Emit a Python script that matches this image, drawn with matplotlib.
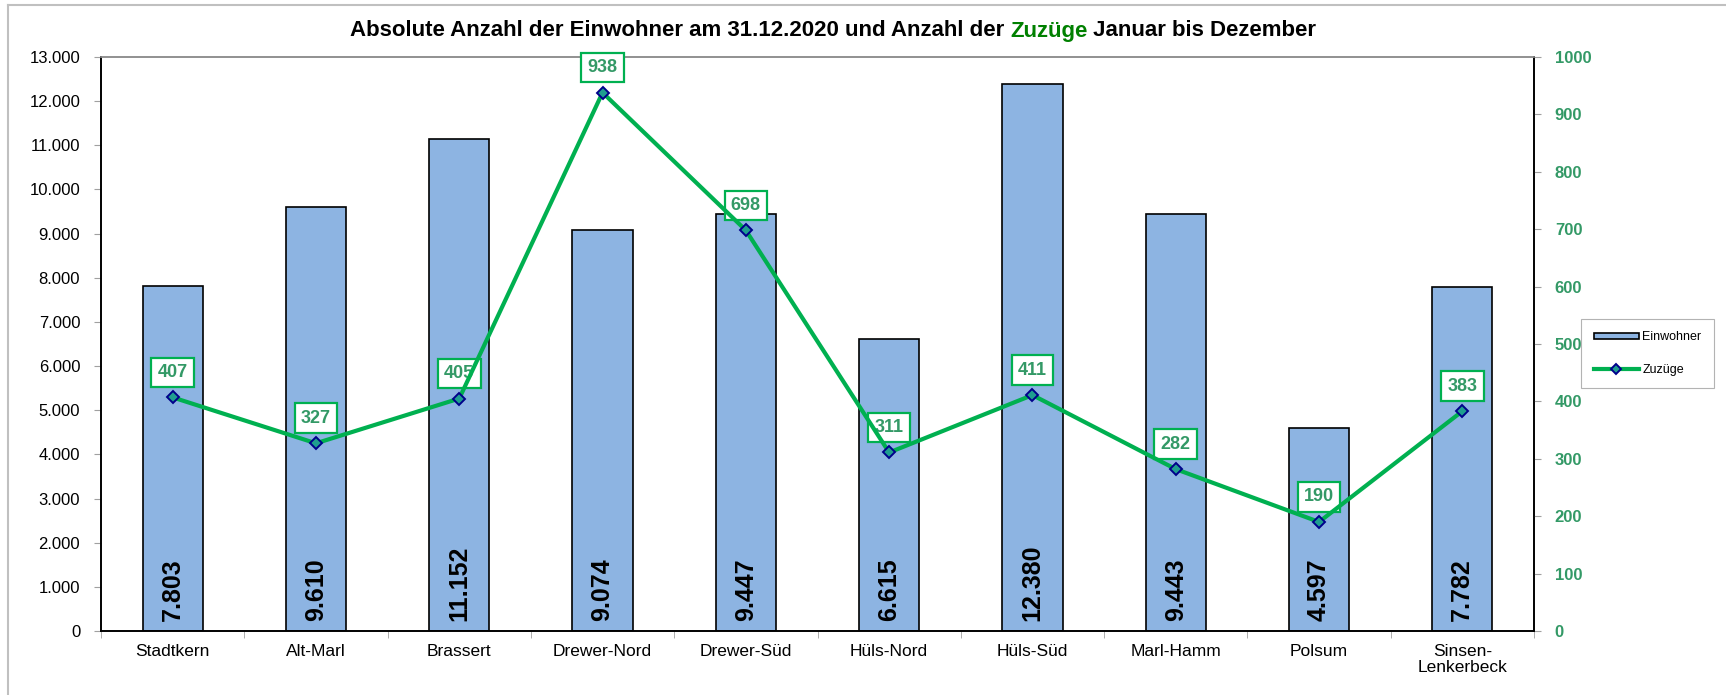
import numpy as np
import matplotlib.pyplot as plt
from matplotlib.ticker import FuncFormatter, MultipleLocator
from matplotlib.lines import Line2D

plt.rcParams['font.family'] = ['Liberation Sans', 'DejaVu Sans']

stadtteile = ['Stadtkern', 'Alt-Marl', 'Brassert', 'Drewer-Nord', 'Drewer-Süd',
              'Hüls-Nord', 'Hüls-Süd', 'Marl-Hamm', 'Polsum', 'Sinsen-\nLenkerbeck']
einwohner = [7803, 9610, 11152, 9074, 9447, 6615, 12380, 9443, 4597, 7782]
zuzuege = [407, 327, 405, 938, 698, 311, 411, 282, 190, 383]

bar_color = '#8DB4E2'
line_color = '#00B050'
label_green = '#339966'


def dotted(v, pos=None):
    return '{:,.0f}'.format(v).replace(',', '.')


fig = plt.figure(figsize=(17.26, 6.95), dpi=100)
W, H = 1726, 695
ax = fig.add_axes([101 / W, 1 - 631 / H, (1534 - 101) / W, (631 - 57) / H])
ax2 = ax.twinx()

x = np.arange(len(stadtteile))
bars = ax.bar(x, einwohner, width=0.42, color=bar_color, edgecolor='black',
              linewidth=1.2, zorder=2)
for xi, v in zip(x, einwohner):
    ax.text(xi, 230, dotted(v), rotation=90, ha='center', va='bottom',
            fontsize=18, fontweight='bold', color='black', zorder=3)

ax.set_xlim(-0.5, len(stadtteile) - 0.5)
ax.set_ylim(0, 13000)
ax.yaxis.set_major_locator(MultipleLocator(1000))
ax.yaxis.set_major_formatter(FuncFormatter(dotted))
ax.set_xticks(x)
ax.set_xticklabels(stadtteile, fontsize=12.5, linespacing=1.1)
ax.set_xticks(np.arange(-0.5, len(stadtteile), 1), minor=True)
ax.tick_params(axis='x', which='major', length=0, pad=9)
ax.tick_params(axis='x', which='minor', length=5, color='#A0A0A0')
ax.tick_params(axis='y', labelsize=12, length=5, color='#A0A0A0', pad=10)

ax2.plot(x, zuzuege, color=line_color, linewidth=3, marker='D',
         markersize=6, markerfacecolor='#1F9E8F', markeredgecolor='#00008B',
         markeredgewidth=1.4, zorder=4)
for xi, v in zip(x, zuzuege):
    ax2.annotate(str(v), (xi, v), xytext=(0, 18), textcoords='offset points',
                 ha='center', va='center', fontsize=13, fontweight='bold',
                 color=label_green, annotation_clip=False,
                 bbox=dict(boxstyle='square,pad=0.35', facecolor='white',
                           edgecolor=line_color, linewidth=1.6))
ax2.set_ylim(0, 1000)
ax2.yaxis.set_major_locator(MultipleLocator(100))
ax2.tick_params(axis='y', labelsize=12, labelcolor=label_green, length=5,
                color='#A0A0A0', pad=10)
for lbl in ax2.get_yticklabels():
    lbl.set_fontweight('bold')

for a in (ax, ax2):
    for side in ('left', 'right', 'bottom'):
        a.spines[side].set_color('black')
        a.spines[side].set_linewidth(1.2)
    a.spines['top'].set_color('#909090')
    a.spines['top'].set_linewidth(1.2)

ax2.set_zorder(ax.get_zorder() + 1)
ax2.patch.set_visible(False)

line_handle = Line2D([], [], color=line_color, linewidth=3, marker='D',
                     markersize=5, markerfacecolor='#1F9E8F',
                     markeredgecolor='#00008B', markeredgewidth=1.4)
leg = fig.legend([bars, line_handle], ['Einwohner', 'Zuzüge'], loc='upper left',
                 bbox_to_anchor=(1581 / W, 1 - 319 / H), fontsize=9,
                 frameon=True, fancybox=False, edgecolor='#A0A0A0',
                 handlelength=3.6, handleheight=0.45, borderpad=1.0,
                 labelspacing=1.6, handletextpad=0.3, borderaxespad=0)
leg.get_frame().set_linewidth(0.8)

# title with coloured word
renderer = fig.canvas.get_renderer()
parts = [('Absolute Anzahl der Einwohner am 31.12.2020 und Anzahl der ', 'black'),
         ('Zuzüge', '#008000'),
         (' Januar bis Dezember', 'black')]
texts = []
for s, c in parts:
    t = fig.text(0, 1 - 31 / H, s, fontsize=16, fontweight='bold', color=c,
                 ha='left', va='center')
    texts.append(t)
widths = [t.get_window_extent(renderer).width for t in texts]
xpos = 833 - sum(widths) / 2
for t, w in zip(texts, widths):
    t.set_x(xpos / W)
    xpos += w

# outer chart frame (left and top edges visible)
fig.lines.append(Line2D([8 / W, 8 / W], [0, 1 - 5 / H], transform=fig.transFigure,
                        color='#C0C0C0', linewidth=1.5))
fig.lines.append(Line2D([8 / W, 1], [1 - 5 / H, 1 - 5 / H], transform=fig.transFigure,
                        color='#C0C0C0', linewidth=1.5))

fig.savefig('out.png', dpi=100)
